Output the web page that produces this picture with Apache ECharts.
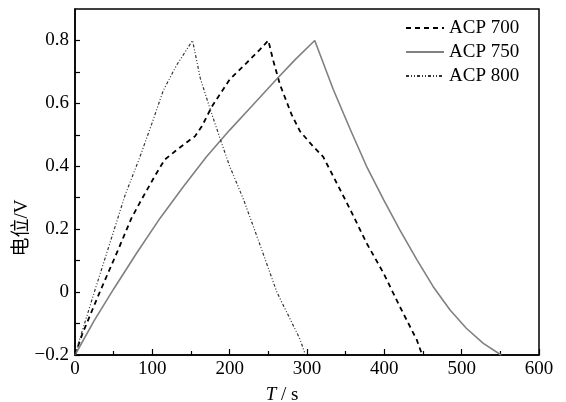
<!DOCTYPE html>
<html>
<head>
<meta charset="utf-8">
<script src="https://cdn.jsdelivr.net/npm/echarts@6/dist/echarts.min.js"></script>
<style>
html,body{margin:0;padding:0;background:#fff;}
#chart{width:566px;height:402px;}
</style>
</head>
<body>
<div id="chart"></div>
<script>
// Data (time in s, potential in V)
var seriesNames = ['ACP 700', 'ACP 750', 'ACP 800'];

var t700 = [0, 10, 32, 55, 73, 86, 103, 116, 129, 146, 155, 164, 177, 200, 222, 239, 250, 256, 265, 280, 291, 308, 321, 334, 356, 377, 399, 420, 442, 449];
var v700 = [-0.2, -0.13, 0, 0.13, 0.235, 0.294, 0.368, 0.421, 0.447, 0.479, 0.495, 0.527, 0.59, 0.676, 0.729, 0.771, 0.8, 0.739, 0.66, 0.565, 0.511, 0.463, 0.43, 0.368, 0.262, 0.156, 0.06, -0.046, -0.152, -0.2];

var t750 = [0, 25, 50, 80, 110, 140, 170, 200, 230, 260, 285, 310, 334, 356, 377, 399, 420, 442, 463, 485, 506, 528, 551];
var v750 = [-0.2, -0.09, 0.01, 0.125, 0.235, 0.335, 0.43, 0.515, 0.595, 0.675, 0.74, 0.8, 0.644, 0.517, 0.4, 0.294, 0.198, 0.103, 0.018, -0.057, -0.115, -0.163, -0.2];

var t800 = [0, 6, 25, 56, 65, 84, 100, 114, 131, 152, 162, 175, 188, 200, 218, 240, 261, 280, 291, 298];
var v800 = [-0.2, -0.15, 0, 0.24, 0.31, 0.43, 0.54, 0.64, 0.72, 0.8, 0.68, 0.58, 0.485, 0.4, 0.294, 0.145, 0, -0.095, -0.15, -0.2];

var xTicks = [0, 100, 200, 300, 400, 500, 600];
var yTicks = [-0.2, 0, 0.2, 0.4, 0.6, 0.8];

function pairs(t, v) {
  var out = [];
  for (var i = 0; i < t.length; i++) out.push([t[i], v[i]]);
  return out;
}

var serif = "'Liberation Serif', 'Times New Roman', serif";

var chart = echarts.init(document.getElementById('chart'), null, {renderer: 'canvas'});
chart.setOption({
  animation: false,
  backgroundColor: '#fff',
  grid: {
    left: 75, right: 27, top: 9, bottom: 47,
    containLabel: false,
    outerBoundsMode: 'none',
    show: true, borderColor: '#000', borderWidth: 1.5, backgroundColor: 'transparent'
  },
  legend: {
    orient: 'vertical',
    left: 405, top: 18, padding: 0,
    itemWidth: 38, itemHeight: 14, itemGap: 4,
    itemStyle: {opacity: 0},
    textStyle: {fontFamily: serif, fontSize: 19, color: '#000', lineHeight: 20},
    data: seriesNames
  },
  xAxis: {
    type: 'value',
    min: 0, max: 600, interval: 100,
    name: '{i|T} / {n|s}',
    nameLocation: 'middle',
    nameGap: 30,
    nameMoveOverlap: false,
    nameTextStyle: {
      padding: [0, 50, 0, 0],
      rich: {
        i: {fontFamily: serif, fontStyle: 'italic', fontSize: 19, color: '#000', lineHeight: 20},
        n: {fontFamily: serif, fontSize: 19, color: '#000', lineHeight: 20}
      },
      fontFamily: serif, fontSize: 19, color: '#000'
    },
    axisLine: {onZero: false, lineStyle: {color: '#000', width: 1.5}},
    axisTick: {inside: true, length: 6, lineStyle: {color: '#000', width: 1.2}},
    minorTick: {show: true, splitNumber: 2, length: 4, lineStyle: {color: '#000', width: 1.2}},
    splitLine: {show: false},
    axisLabel: {
      fontFamily: serif, fontSize: 19, color: '#000', margin: 5,
      formatter: function (v) { return xTicks.indexOf(v) >= 0 ? String(v) : ''; }
    }
  },
  yAxis: {
    type: 'value',
    min: -0.2, max: 0.9, interval: 0.1,
    name: '电位/V',
    nameLocation: 'middle',
    nameGap: 43,
    nameRotate: 90,
    nameMoveOverlap: false,
    nameTextStyle: {
      fontFamily: "'Liberation Serif', 'Noto Sans CJK SC', serif",
      fontSize: 19, color: '#000',
      padding: [0, 92, 0, 0]
    },
    axisLine: {onZero: false, lineStyle: {color: '#000', width: 1.5}},
    axisTick: {inside: true, length: 5, lineStyle: {color: '#000', width: 1.2}},
    splitLine: {show: false},
    axisLabel: {
      fontFamily: serif, fontSize: 19, color: '#000', margin: 6,
      showMaxLabel: false,
      formatter: function (v) {
        var r = Math.round(v * 10) / 10;
        for (var i = 0; i < yTicks.length; i++) {
          if (Math.abs(yTicks[i] - r) < 1e-6) {
            return r === 0 ? '0' : r.toFixed(1).replace('-', '\u2212');
          }
        }
        return '';
      }
    }
  },
  series: [
    {
      name: seriesNames[0], type: 'line', symbol: 'none',
      data: pairs(t700, v700),
      itemStyle: {color: '#000'},
      lineStyle: {color: '#000', width: 1.8, type: [5, 4]}
    },
    {
      name: seriesNames[1], type: 'line', symbol: 'none',
      data: pairs(t750, v750),
      itemStyle: {color: '#808080'},
      lineStyle: {color: '#808080', width: 1.6, type: 'solid'}
    },
    {
      name: seriesNames[2], type: 'line', symbol: 'none',
      data: pairs(t800, v800),
      itemStyle: {color: '#333'},
      lineStyle: {color: '#333', width: 1.2, type: [3, 2, 1, 2, 1, 2]}
    }
  ]
});
</script>
</body>
</html>
